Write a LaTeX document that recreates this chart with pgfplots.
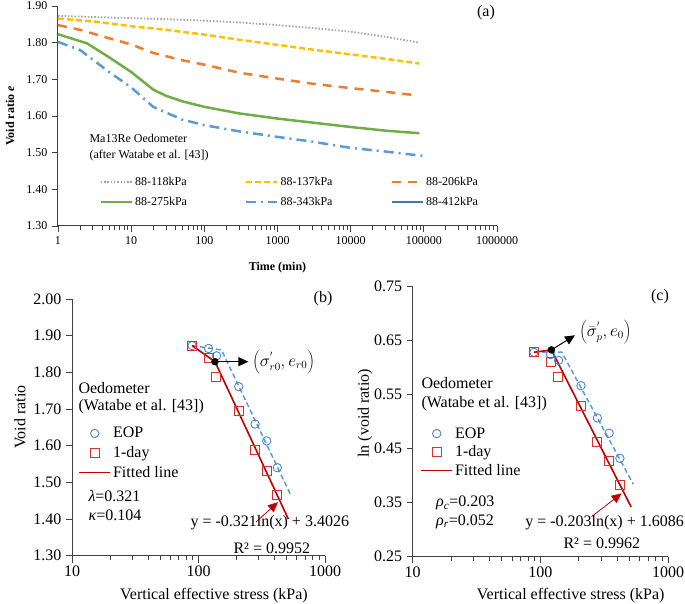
\documentclass[border=0pt]{standalone}
\usepackage{fontspec}
\setmainfont{Liberation Serif}
\usepackage{pgfplots}
\pgfplotsset{compat=1.18}
\usetikzlibrary{arrows.meta}
\definecolor{cgray}{HTML}{A5A5A5}
\definecolor{cgold}{HTML}{FFC000}
\definecolor{corange}{HTML}{ED7D31}
\definecolor{cgreen}{HTML}{70AD47}
\definecolor{cblue}{HTML}{5B9BD5}
\definecolor{cdblue}{HTML}{4472C4}
\definecolor{cred}{HTML}{D9302B}
\definecolor{cdred}{HTML}{C00000}
\definecolor{ccirc}{HTML}{4F86D0}
\definecolor{axgray}{HTML}{404040}
\newcommand{\fa}{\fontsize{12}{14}\selectfont}
\newcommand{\fb}{\fontsize{16}{19}\selectfont}
\pgfplotsset{
  myax/.style={
    scale only axis, anchor=south west,
    axis lines=left,
    axis line style={draw=axgray, line width=1pt, -},
    tick style={draw=none},
    tick align=outside, major tick length=7pt, minor tick length=4pt,
    log ticks with fixed point,
    /pgf/number format/1000 sep={},
    /pgf/number format/assume math mode=true,
    yticklabel style={/pgf/number format/fixed, /pgf/number format/fixed zerofill, /pgf/number format/precision=2},
    legend cell align=left,
    legend image code/.code={\draw[mark repeat=2,mark phase=2,##1] plot coordinates {(0pt,0pt) (15.5pt,0pt) (31pt,0pt)};},
    clip=false,
  },
  tk/.style={axgray, line width=0.9pt, forget plot, unbounded coords=jump},
}
\begin{document}
\begin{tikzpicture}
\useasboundingbox (0,0) rectangle (685pt,604pt);
% ---------------- (a)
\begin{semilogxaxis}[myax, at={(58pt,378pt)}, width=439pt, height=220pt,
  xmin=1, xmax=1000000, ymin=1.3, ymax=1.9,
  xtick={1,10,100,1000,10000,100000,1000000},
  ytick={1.3,1.4,1.5,1.6,1.7,1.8,1.9},
  tick label style={font=\fa}, label style={font=\fa},
  xlabel={\textbf{Time (min)}}, ylabel={\textbf{Void ratio \textit{e}}},
  xlabel style={at={(axis description cs:0.5,-0.19)}, anchor=center},
  ylabel style={at={(axis description cs:-0.109,0.5)}, anchor=center},
  legend columns=3,
  legend style={draw=none, fill=none, font=\fa, at={(axis description cs:0.528,0.155)}, anchor=center,
    /tikz/every even column/.append style={column sep=56pt}, row sep=6pt},
]
\addplot[tk] coordinates {(1,1.3)(1,1.2836)(nan,nan)(10,1.3)(10,1.2836)(nan,nan)(100,1.3)(100,1.2836)(nan,nan)(1000,1.3)(1000,1.2836)(nan,nan)(10000,1.3)(10000,1.2836)(nan,nan)(100000,1.3)(100000,1.2836)(nan,nan)(1000000,1.3)(1000000,1.2836)};
\addplot[tk] coordinates {(2,1.3)(2,1.289)(nan,nan)(3,1.3)(3,1.289)(nan,nan)(4,1.3)(4,1.289)(nan,nan)(5,1.3)(5,1.289)(nan,nan)(6,1.3)(6,1.289)(nan,nan)(7,1.3)(7,1.289)(nan,nan)(8,1.3)(8,1.289)(nan,nan)(9,1.3)(9,1.289)(nan,nan)
(20,1.3)(20,1.289)(nan,nan)(30,1.3)(30,1.289)(nan,nan)(40,1.3)(40,1.289)(nan,nan)(50,1.3)(50,1.289)(nan,nan)(60,1.3)(60,1.289)(nan,nan)(70,1.3)(70,1.289)(nan,nan)(80,1.3)(80,1.289)(nan,nan)(90,1.3)(90,1.289)(nan,nan)
(200,1.3)(200,1.289)(nan,nan)(300,1.3)(300,1.289)(nan,nan)(400,1.3)(400,1.289)(nan,nan)(500,1.3)(500,1.289)(nan,nan)(600,1.3)(600,1.289)(nan,nan)(700,1.3)(700,1.289)(nan,nan)(800,1.3)(800,1.289)(nan,nan)(900,1.3)(900,1.289)(nan,nan)
(2000,1.3)(2000,1.289)(nan,nan)(3000,1.3)(3000,1.289)(nan,nan)(4000,1.3)(4000,1.289)(nan,nan)(5000,1.3)(5000,1.289)(nan,nan)(6000,1.3)(6000,1.289)(nan,nan)(7000,1.3)(7000,1.289)(nan,nan)(8000,1.3)(8000,1.289)(nan,nan)(9000,1.3)(9000,1.289)(nan,nan)
(20000,1.3)(20000,1.289)(nan,nan)(30000,1.3)(30000,1.289)(nan,nan)(40000,1.3)(40000,1.289)(nan,nan)(50000,1.3)(50000,1.289)(nan,nan)(60000,1.3)(60000,1.289)(nan,nan)(70000,1.3)(70000,1.289)(nan,nan)(80000,1.3)(80000,1.289)(nan,nan)(90000,1.3)(90000,1.289)(nan,nan)
(200000,1.3)(200000,1.289)(nan,nan)(300000,1.3)(300000,1.289)(nan,nan)(400000,1.3)(400000,1.289)(nan,nan)(500000,1.3)(500000,1.289)(nan,nan)(600000,1.3)(600000,1.289)(nan,nan)(700000,1.3)(700000,1.289)(nan,nan)(800000,1.3)(800000,1.289)(nan,nan)(900000,1.3)(900000,1.289)};
\addplot[tk] coordinates {(1,1.3)(0.828,1.3)(nan,nan)(1,1.4)(0.828,1.4)(nan,nan)(1,1.5)(0.828,1.5)(nan,nan)(1,1.6)(0.828,1.6)(nan,nan)(1,1.7)(0.828,1.7)(nan,nan)(1,1.8)(0.828,1.8)(nan,nan)(1,1.9)(0.828,1.9)};
\addplot[cgray, line width=1.8pt, dash pattern=on 1.5pt off 1.8pt] coordinates {
(1,1.873) (3,1.870) (10,1.867) (30,1.864) (100,1.860) (300,1.855) (1000,1.848) (3000,1.840) (10000,1.830) (30000,1.816) (87000,1.800)};
\addlegendentry{88-118kPa}
\addplot[cgold, line width=2.5pt, dash pattern=on 6pt off 3pt] coordinates {
(1,1.866) (3,1.858) (10,1.845) (30,1.835) (100,1.822) (300,1.808) (1000,1.794) (3000,1.781) (10000,1.768) (30000,1.756) (87000,1.743)};
\addlegendentry{88-137kPa}
\addplot[corange, line width=2.5pt, dash pattern=on 9pt off 7pt] coordinates {
(1,1.848) (2,1.835) (5,1.812) (10,1.795) (20,1.772) (50,1.752) (100,1.740) (300,1.718) (1000,1.702) (3000,1.688) (10000,1.676) (30000,1.666) (82000,1.656)};
\addlegendentry{88-206kPa}
\addplot[cgreen, line width=2.5pt] coordinates {
(1,1.823) (2.5,1.798) (5,1.760) (10,1.720) (20,1.672) (30,1.655) (50,1.640) (100,1.625) (300,1.607) (1000,1.593) (3000,1.582) (10000,1.570) (30000,1.560) (87000,1.553)};
\addlegendentry{88-275kPa}
\addplot[cblue, line width=2.5pt, dash pattern=on 10pt off 5pt on 2pt off 5pt] coordinates {
(1,1.802) (2,1.780) (5,1.720) (10,1.678) (20,1.625) (50,1.590) (100,1.575) (300,1.558) (1000,1.543) (3000,1.530) (10000,1.513) (30000,1.503) (100000,1.491)};
\addlegendentry{88-343kPa}
\addlegendimage{cdblue, line width=2.5pt}
\addlegendentry{88-412kPa}
\end{semilogxaxis}
\node[font=\fa, anchor=west] at (86pt,465.7pt) {Ma13Re Oedometer};
\node[font=\fa, anchor=west] at (86pt,448pt) {(after Watabe et al. [43])};
\node[font=\fb] at (486pt,591.7pt) {(a)};
% ---------------- (b)
\begin{semilogxaxis}[myax, at={(72pt,48.3pt)}, width=253pt, height=256.7pt,
  xmin=10, xmax=1000,  ymin=1.3, ymax=2.0,
  xtick={10,100,1000},
  ytick={1.3,1.4,1.5,1.6,1.7,1.8,1.9,2.0},
  tick label style={font=\fb}, label style={font=\fb},
  xlabel={Vertical effective stress (kPa)}, ylabel={Void ratio},
  xlabel style={at={(axis description cs:0.561,-0.156)}, anchor=center},
  ylabel style={at={(axis description cs:-0.2055,0.54)}, anchor=center},
  legend style={draw=none, fill=none, font=\fb, at={(axis description cs:0.227,0.40)}, anchor=center, row sep=3pt},
]
\addplot[tk] coordinates {(10,1.3)(10,1.281)(nan,nan)(100,1.3)(100,1.281)(nan,nan)(1000,1.3)(1000,1.281)};
\addplot[tk] coordinates {(20,1.3)(20,1.289)(nan,nan)(30,1.3)(30,1.289)(nan,nan)(40,1.3)(40,1.289)(nan,nan)(50,1.3)(50,1.289)(nan,nan)(60,1.3)(60,1.289)(nan,nan)(70,1.3)(70,1.289)(nan,nan)(80,1.3)(80,1.289)(nan,nan)(90,1.3)(90,1.289)(nan,nan)
(200,1.3)(200,1.289)(nan,nan)(300,1.3)(300,1.289)(nan,nan)(400,1.3)(400,1.289)(nan,nan)(500,1.3)(500,1.289)(nan,nan)(600,1.3)(600,1.289)(nan,nan)(700,1.3)(700,1.289)(nan,nan)(800,1.3)(800,1.289)(nan,nan)(900,1.3)(900,1.289)};
\addplot[tk] coordinates {(10,1.3)(8.97,1.3)(nan,nan)(10,1.4)(8.97,1.4)(nan,nan)(10,1.5)(8.97,1.5)(nan,nan)(10,1.6)(8.97,1.6)(nan,nan)(10,1.7)(8.97,1.7)(nan,nan)(10,1.8)(8.97,1.8)(nan,nan)(10,1.9)(8.97,1.9)(nan,nan)(10,2.0)(8.97,2.0)};
\addplot[cblue, line width=1.5pt, dash pattern=on 5pt off 3pt, forget plot] coordinates {(89,1.873) (152,1.861) (535,1.466)};
\addplot[only marks, mark=o, mark size=4.2pt, ccirc, mark options={line width=0.9pt}] coordinates {
(89,1.873) (120,1.865) (139,1.845) (208,1.761) (280,1.659) (346,1.613) (420,1.540)};
\addlegendentry{EOP}
\addplot[only marks, mark=square, mark size=4.5pt, cred, mark options={line width=0.9pt}] coordinates {
(89,1.873) (120,1.840) (137,1.788) (208,1.695) (280,1.588) (346,1.532) (420,1.467)};
\addlegendentry{1-day}
\addplot[cdred, line width=1.6pt] coordinates {(89,1.873) (135,1.829) (513,1.400)};
\addlegendentry{Fitted line}
\addplot[only marks, mark=*, mark size=3.5pt, black, forget plot] coordinates {(135,1.829)};
\addplot[black, line width=1pt, -{Triangle[length=10pt,width=9pt]}, forget plot] coordinates {(135,1.829) (248,1.829)};
\addplot[cdred, line width=0.8pt, -{Triangle[length=10pt,width=9pt]}, forget plot] coordinates {(285,1.392) (425,1.446)};
\end{semilogxaxis}
\node[font=\fb, anchor=west] at (249pt,242pt) {$\left(\sigma^{'}_{r0},e_{r0}\right)$};
\node[font=\fb, anchor=west] at (75pt,216.3pt) {Oedometer};
\node[font=\fb, anchor=west] at (75pt,197.3pt) {(Watabe et al. [43])};
\node[font=\fb, anchor=west] at (85pt,108.3pt) {\textit{λ}=0.321};
\node[font=\fb, anchor=west] at (85pt,89pt) {\textit{κ}=0.104};
\node[font=\fb, anchor=west] at (187pt,81.3pt) {y = -0.321ln(x) + 3.4026};
\node[font=\fb, anchor=west] at (230pt,55.7pt) {R² = 0.9952};
\node[font=\fb] at (323pt,305.7pt) {(b)};
% ---------------- (c)
\begin{semilogxaxis}[myax, at={(412.7pt,47.3pt)}, width=255.3pt, height=270.7pt,
  xmin=10, xmax=1000, ymin=0.25, ymax=0.75,
  xtick={10,100,1000},
  ytick={0.25,0.35,0.45,0.55,0.65,0.75},
  tick label style={font=\fb}, label style={font=\fb},
  xlabel={Vertical effective stress (kPa)}, ylabel={ln (void ratio)},
  xlabel style={at={(axis description cs:0.619,-0.144)}, anchor=center},
  ylabel style={at={(axis description cs:-0.187,0.53)}, anchor=center},
  legend style={draw=none, fill=none, font=\fb, at={(axis description cs:0.23,0.386)}, anchor=center, row sep=2pt},
]
\addplot[tk] coordinates {(10,0.25)(10,0.2389)(nan,nan)(100,0.25)(100,0.2389)(nan,nan)(1000,0.25)(1000,0.2389)};
\addplot[tk] coordinates {(20,0.25)(20,0.2426)(nan,nan)(30,0.25)(30,0.2426)(nan,nan)(40,0.25)(40,0.2426)(nan,nan)(50,0.25)(50,0.2426)(nan,nan)(60,0.25)(60,0.2426)(nan,nan)(70,0.25)(70,0.2426)(nan,nan)(80,0.25)(80,0.2426)(nan,nan)(90,0.25)(90,0.2426)(nan,nan)
(200,0.25)(200,0.2426)(nan,nan)(300,0.25)(300,0.2426)(nan,nan)(400,0.25)(400,0.2426)(nan,nan)(500,0.25)(500,0.2426)(nan,nan)(600,0.25)(600,0.2426)(nan,nan)(700,0.25)(700,0.2426)(nan,nan)(800,0.25)(800,0.2426)(nan,nan)(900,0.25)(900,0.2426)};
\addplot[tk] coordinates {(10,0.25)(8.975,0.25)(nan,nan)(10,0.35)(8.975,0.35)(nan,nan)(10,0.45)(8.975,0.45)(nan,nan)(10,0.55)(8.975,0.55)(nan,nan)(10,0.65)(8.975,0.65)(nan,nan)(10,0.75)(8.975,0.75)};
\addplot[cblue, line width=1.5pt, dash pattern=on 5pt off 3pt, forget plot] coordinates {(89,0.628) (147,0.628) (535,0.384)};
\addplot[only marks, mark=o, mark size=4.2pt, ccirc, mark options={line width=0.9pt}] coordinates {
(89,0.6275) (120,0.6233) (139,0.6125) (208,0.5659) (280,0.5062) (346,0.4781) (420,0.4318)};
\addlegendentry{EOP}
\addplot[only marks, mark=square, mark size=4.5pt, cred, mark options={line width=0.9pt}] coordinates {
(89,0.6275) (120,0.6098) (137,0.5811) (208,0.5277) (280,0.4625) (346,0.4266) (420,0.3832)};
\addlegendentry{1-day}
\addplot[cdred, line width=1.6pt] coordinates {(89,0.6275) (122,0.632) (514,0.342)};
\addlegendentry{Fitted line}
\addplot[only marks, mark=*, mark size=3.5pt, black, forget plot] coordinates {(122,0.632)};
\addplot[black, line width=1pt, -{Triangle[length=10pt,width=9pt]}, forget plot] coordinates {(122,0.632) (187,0.659)};
\addplot[cdred, line width=0.8pt, -{Triangle[length=10pt,width=9pt]}, forget plot] coordinates {(252,0.324) (433,0.367)};
\end{semilogxaxis}
\node[font=\fb, anchor=west] at (576pt,272pt) {$\left(\bar{\sigma}^{'}_{p},e_{0}\right)$};
\node[font=\fb, anchor=west] at (418pt,220.7pt) {Oedometer};
\node[font=\fb, anchor=west] at (418pt,200pt) {(Watabe et al. [43])};
\node[font=\fb, anchor=west] at (432.7pt,100.7pt) {\textit{ρ}\textsubscript{\textit{c}}=0.203};
\node[font=\fb, anchor=west] at (432.7pt,82.3pt) {\textit{ρ}\textsubscript{\textit{r}}=0.052};
\node[font=\fb, anchor=east, inner sep=0pt] at (684pt,81.3pt) {y = -0.203ln(x) + 1.6086};
\node[font=\fb, anchor=west] at (560pt,60.7pt) {R² = 0.9962};
\node[font=\fb] at (660pt,307.3pt) {(c)};
\end{tikzpicture}
\end{document}
